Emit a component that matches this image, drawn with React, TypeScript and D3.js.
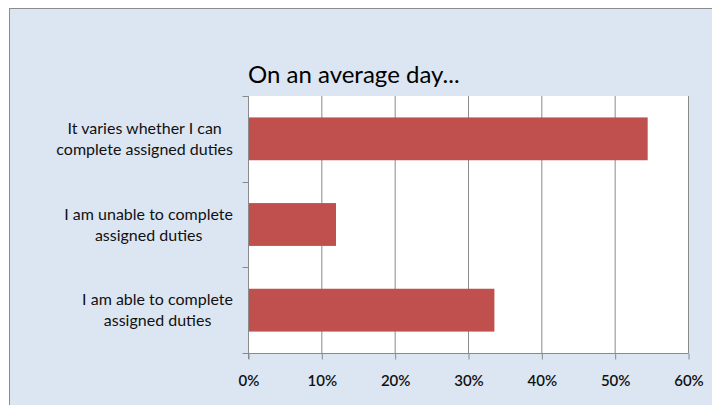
import * as d3 from 'd3'
import React, { useEffect, useRef } from "react";

const categories = [
    "It varies whether I can|complete assigned duties",
    "I am unable to complete|assigned duties",
    "I am able to complete|assigned duties",
];
const values = [0.545, 0.12, 0.336];
const xTicks = [0, 0.1, 0.2, 0.3, 0.4, 0.5, 0.6];
const title = "On an average day...";

const App: React.FC = () => {
    const ref = useRef<SVGSVGElement>(null);

    useEffect(() => {
        if (!ref.current) return;
        const width = 712;
        const height = 405;
        const svg = d3.select(ref.current);
        svg.selectAll('*').remove();
        svg.attr('width', width).attr('height', height);

        const font = "Lato, 'Open Sans', sans-serif";

        // chart frame
        svg.append('rect')
            .attr('x', 9.5).attr('y', 8.5)
            .attr('width', width).attr('height', height)
            .attr('fill', '#dce6f2')
            .attr('stroke', '#8c8c8c');

        const left = 248, right = 688, top = 96, bottom = 353;

        const x = d3.scaleLinear().domain([0, 0.6]).range([left, right]);
        const y = d3.scaleBand().domain(categories).range([top, bottom]).paddingInner(0.5).paddingOuter(0.25);
        const yb = d3.scaleBand().domain(categories).range([top, bottom]);

        svg.append('rect')
            .attr('x', left).attr('y', top)
            .attr('width', right - left).attr('height', bottom - top)
            .attr('fill', '#ffffff');

        // gridlines
        svg.append('g')
            .selectAll('line')
            .data(xTicks.slice(1))
            .join('line')
            .attr('x1', d => x(d) + 0.5).attr('x2', d => x(d) + 0.5)
            .attr('y1', top).attr('y2', bottom)
            .attr('stroke', '#8a8a8a');

        // bars
        svg.append('g')
            .selectAll('rect')
            .data(values)
            .join('rect')
            .attr('x', left)
            .attr('y', (d, i) => y(categories[i])!)
            .attr('width', d => x(d) - left)
            .attr('height', y.bandwidth())
            .attr('fill', '#c0504d');

        // x axis
        const xAxis = svg.append('g')
            .attr('transform', `translate(0.5, ${bottom + 0.5})`)
            .call(d3.axisBottom(x).tickValues(xTicks).tickSize(6).tickPadding(16).tickFormat(d3.format('.0%')));
        xAxis.select('.domain').attr('stroke', '#8a8a8a').attr('d', `M${left - 6},0H${right}`);
        xAxis.selectAll('.tick line').attr('stroke', '#8a8a8a');
        xAxis.selectAll('.tick text')
            .attr('font-family', font).attr('font-size', 15).attr('font-weight', 600)
            .attr('fill', '#111111');

        // y axis
        const yAxis = svg.append('g')
            .attr('transform', `translate(${left + 0.5}, 0)`);
        yAxis.append('line')
            .attr('x1', 0).attr('x2', 0).attr('y1', top).attr('y2', bottom + 6)
            .attr('stroke', '#8a8a8a');
        yAxis.selectAll('line.tk')
            .data(categories)
            .join('line')
            .attr('class', 'tk')
            .attr('x1', -6).attr('x2', 0)
            .attr('y1', d => Math.round(yb(d)!) + 0.5).attr('y2', d => Math.round(yb(d)!) + 0.5)
            .attr('stroke', '#8a8a8a');

        const labels = svg.append('g');
        categories.forEach(c => {
            const lines = c.split('|');
            const cy = y(c)! + y.bandwidth() / 2;
            const t = labels.append('text')
                .attr('text-anchor', 'middle')
                .attr('font-family', font).attr('font-size', 16)
                .attr('fill', '#111111');
            lines.forEach((l, i) => {
                t.append('tspan')
                    .attr('x', 0)
                    .attr('y', cy + (i - (lines.length - 1) / 2) * 21 + 5.5)
                    .text(l);
            });
            const w = (t.node() as SVGTextElement).getBBox().width;
            t.selectAll('tspan').attr('x', 233 - w / 2);
        });

        svg.append('text')
            .attr('x', 248).attr('y', 83)
            .attr('font-family', font).attr('font-size', 24)
            .attr('fill', '#000000')
            .text(title);
    }, []);

    return (
        <div style={{ position: 'absolute', left: 0, top: 0 }}>
            <svg ref={ref}></svg>
        </div>
    );
}

export default App;
